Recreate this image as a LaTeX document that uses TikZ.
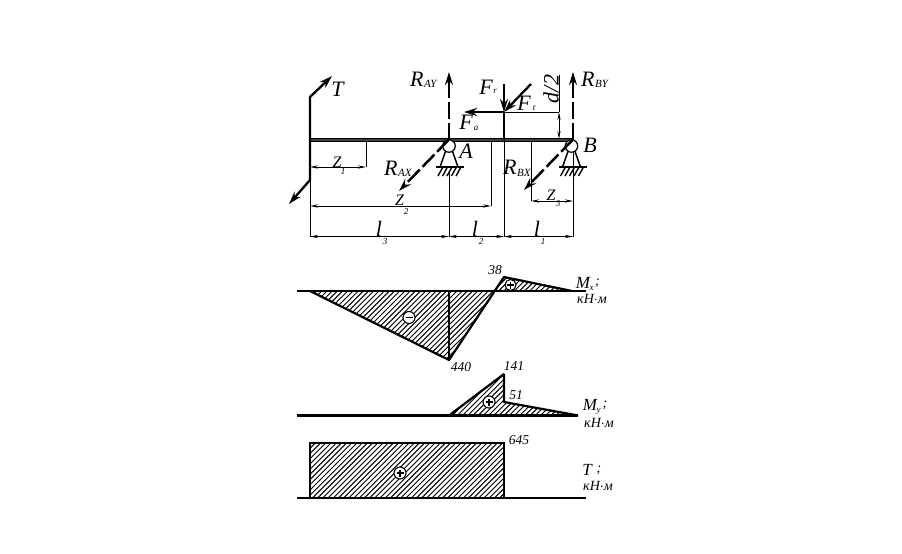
\documentclass[tikz,border=0pt]{standalone}
\usepackage{fontspec}
\setmainfont{Liberation Serif}
\usetikzlibrary{arrows.meta,calc}
\tikzset{
  heavy/.style={line width=2.4pt,line cap=butt},
  thin line/.style={line width=0.9pt},
  force/.style={line width=2.3pt,-{Stealth[length=13pt,width=8pt]}},
  dforce/.style={line width=2.5pt,dash pattern=on 17pt off 4pt,-{Stealth[length=13pt,width=8pt]}},
  dimen/.style={line width=0.9pt,{Stealth[length=8pt,width=3.2pt]}-{Stealth[length=8pt,width=3.2pt]}},
  big/.style={inner sep=0pt,font=\itshape\fontsize{22}{22}\selectfont},
  zed/.style={inner sep=0pt,font=\itshape\fontsize{16}{16}\selectfont},
  sub/.style={inner sep=0pt,font=\itshape\fontsize{9}{9}\selectfont},
  subb/.style={inner sep=0pt,font=\itshape\fontsize{11}{11}\selectfont},
  val/.style={inner sep=0pt,font=\itshape\fontsize{13.5}{14}\selectfont},
  unit/.style={inner sep=0pt,font=\itshape\fontsize{14}{14}\selectfont},
  ubig/.style={inner sep=0pt,font=\itshape\fontsize{17}{17}\selectfont},
  sign/.style={circle,draw,line width=1.1pt,fill=white,minimum size=12pt,inner sep=0pt},
  hatchline/.style={line width=0.95pt},
  outl/.style={line width=2.2pt,line join=bevel}
}
\newcommand{\hatchfill}[1]{%
  \begin{scope}
    \clip #1;
    \foreach \h in {0,5.2,...,800}{\draw[hatchline] (\h-100,510) -- (\h+160,250);}
  \end{scope}}
\newcommand{\plusmark}[1]{\draw[line width=1.5pt] ($(#1)+(-3.5,0)$) -- ($(#1)+(3.5,0)$); \draw[line width=1.5pt] ($(#1)+(0,-3.5)$) -- ($(#1)+(0,3.5)$);}
\newcommand{\minusmark}[1]{\draw[line width=1.8pt] ($(#1)+(-3.5,0)$) -- ($(#1)+(3.5,0)$);}
\begin{document}
\begin{tikzpicture}[x=1pt,y=-1pt]
\useasboundingbox (0,0) rectangle (902,554);
\fill[white] (0,0) rectangle (902,554);
% key points
\coordinate (L) at (310,139.5); \coordinate (A) at (449,139.5);
\coordinate (C) at (504,139.5); \coordinate (B) at (573,139.5);
\coordinate (Cu) at (504,112);
% dimension and extension lines
\draw[thin line] (366,140) -- (366,167);
\draw[thin line] (491,140) -- (491,206);
\draw[thin line] (531,140) -- (531,201);
\draw[thin line] (310,180) -- (310,237);
\draw[thin line] (449,172) -- (449,237);
\draw[thin line] (504,139) -- (504,237);
\draw[thin line] (573,146) -- (573,237);
\draw[dimen] (310,167) -- (366,167);
\draw[dimen] (310,206) -- (491,206);
\draw[dimen] (531,201) -- (573,201);
\draw[dimen] (310,236.5) -- (449,236.5);
\draw[dimen] (449,236.5) -- (504,236.5);
\draw[dimen] (504,236.5) -- (573,236.5);
% d/2
\draw[thin line] (504,112) -- (559,112);
\draw[thin line] (559,75) -- (559,112);
\draw[dimen] (559,112) -- (559,139);
% shaft
\draw[line width=3.6pt,black!75] (310,139.5) -- (573,139.5);
\draw[line width=0.9pt] (310,138) -- (573,138);
\draw[line width=0.9pt] (310,141) -- (573,141);
% crank and T
\draw[force] (310,139) -- (310,97) -- (332,76);
\draw[force] (310,139) -- (310,180) -- (289,204);
% forces
\draw[heavy] (C) -- (Cu);
\draw[force] (504,84) -- (Cu);
\draw[force] (531,84) -- (Cu);
\draw[force] (Cu) -- (464,112);
\draw[dforce] (A) -- (449,72);
\draw[dforce] (B) -- (573,72);
% supports
\foreach \sx/\name in {449/sa,571.5/sb}{
  \draw[line width=1.5pt] (\sx-3,150) -- (\sx-9,167);
  \draw[line width=1.5pt] (\sx+3,150) -- (\sx+9,167);
  \draw[line width=1.7pt] (\sx-13,167) -- (\sx+15,167);
  \foreach \k in {-9,-4.5,0,4.5,9}{\draw[line width=1.4pt] (\sx+\k+3,167) -- (\sx+\k-2,176);}
  \node[circle,draw,line width=1.2pt,fill=white,minimum size=12.5pt,inner sep=0pt] (\name) at (\sx,146) {};
}
\draw[dforce] (A) -- (399,191);
\draw[dforce] (B) -- (524,190);
% labels
\node[big] (tT) at (337.5,89) {T};
\node[big,anchor=west] (tRAY) at (410,79) {R};
\node[subb,anchor=west] (tRAYs) at (424,84) {AY};
\node[big,anchor=west] (tRBY) at (581,79) {R};
\node[subb,anchor=west] (tRBYs) at (595,84) {BY};
\node[big,anchor=west] (tRAX) at (384,168) {R};
\node[subb,anchor=west] (tRAXs) at (398,173) {AX};
\node[big,anchor=west] (tRBX) at (503,167) {R};
\node[subb,anchor=west] (tRBXs) at (517,173) {BX};
\node[big] (tFr) at (486,87) {F};
\node[sub] (tFrs) at (495,91) {r};
\node[big] (tFt) at (524,103) {F};
\node[sub] (tFts) at (534,108) {t};
\node[big] (tFa) at (466,122) {F};
\node[sub] (tFas) at (476,128) {a};
\node[big] (tA) at (466,151) {A};
\node[big] (tB) at (590,145) {B};
\node[big,rotate=90] (td) at (551,89) {d/2};
\node[zed] (tz1) at (337,162) {Z};
\node[sub] (tz1s) at (343,171.5) {1};
\node[zed] (tz2) at (399.5,200) {Z};
\node[sub] (tz2s) at (406,211.5) {2};
\node[zed] (tz3) at (551,195) {Z};
\node[sub] (tz3s) at (558,204) {3};
\node[big] (tl3) at (379,228.5) {l};
\node[sub] (tl3s) at (385,242) {3};
\node[big] (tl2) at (475,228.5) {l};
\node[sub] (tl2s) at (481,242) {2};
\node[big] (tl1) at (537,228.5) {l};
\node[sub] (tl1s) at (543,242) {1};
% Mx diagram
\hatchfill{(310,291) -- (449,360) -- (495,291) -- cycle}
\hatchfill{(495,291) -- (504,277) -- (572,291) -- cycle}
\draw[line width=2.2pt] (297,291) -- (586,291);
\draw[outl] (310,291) -- (449,360) -- (504,277) -- (572,291);
\draw[line width=2.2pt] (449,291) -- (449,360);
\node[sign] (mxm) at (409,317.5) {}; \minusmark{mxm}
\node[sign,minimum size=11pt] (mxp) at (510.5,285) {}; \plusmark{mxp}
\node[val] (v38) at (495,270.5) {38};
\node[val] (v440) at (461,367) {440};
\node[ubig] (umx) at (583,283) {M};
\node[sub] (umxs) at (591.5,288) {x};
\node[unit] (umxd) at (597.5,283) {;};
\node[unit] (ukn1) at (592,298.5) {кН$\cdot$м};
% My diagram
\hatchfill{(449,415.5) -- (504,374) -- (504,402) -- (578,415.5) -- cycle}
\draw[line width=2.2pt] (297,415.5) -- (578,415.5);
\draw[outl] (449,415.5) -- (504,374) -- (504,402) -- (578,415.5);
\node[sign] (myp) at (489,402) {}; \plusmark{myp}
\node[val] (v141) at (514,366) {141};
\node[val] (v51) at (516,395) {51};
\node[ubig] (umy) at (590,405) {M};
\node[sub] (umys) at (598.5,411) {y};
\node[unit] (umyd) at (605,405) {;};
\node[unit] (ukn2) at (599,423) {кН$\cdot$м};
% T diagram
\hatchfill{(310,443) rectangle (504,498)}
\draw[line width=2.2pt] (297,498) -- (586,498);
\draw[line width=2.2pt] (310,498) -- (310,443) -- (504,443) -- (504,498);
\node[sign] (tp) at (400,473) {}; \plusmark{tp}
\node[val] (v645) at (519,440) {645};
\node[ubig] (ut) at (587,470) {T};
\node[unit] (utd) at (599,470) {;};
\node[unit] (ukn3) at (598,486) {кН$\cdot$м};
\end{tikzpicture}
\end{document}
